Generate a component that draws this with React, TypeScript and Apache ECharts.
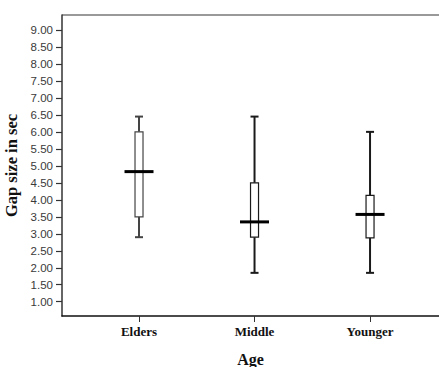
import React, { useEffect, useRef } from "react";
import * as echarts from "echarts";

const categories = ["Elders", "Middle", "Younger"];
const whiskerLow = [2.9, 1.85, 1.85];
const boxLow = [3.5, 2.9, 2.88];
const medians = [4.83, 3.35, 3.57];
const boxHigh = [6.0, 4.5, 4.13];
const whiskerHigh = [6.45, 6.45, 6.0];
const yTicks = [1, 1.5, 2, 2.5, 3, 3.5, 4, 4.5, 5, 5.5, 6, 6.5, 7, 7.5, 8, 8.5, 9];

export default function App() {
  const ref = useRef<HTMLDivElement>(null);
  useEffect(() => {
    if (!ref.current) return;
    const chart = echarts.init(ref.current, null, { renderer: "svg" });
    const data = categories.map((_, i) => [
      i + 1,
      whiskerLow[i],
      boxLow[i],
      medians[i],
      boxHigh[i],
      whiskerHigh[i],
    ]);
    chart.setOption({
      animation: false,
      backgroundColor: "#ffffff",
      grid: { left: 62, right: 0, top: 15, bottom: 51, containLabel: false, outerBoundsMode: "none" },
      xAxis: {
        type: "value",
        min: 0.3333,
        max: 3.597,
        splitLine: { show: false },
        axisLine: { show: true, lineStyle: { color: "#111", width: 1.5 } },
        axisTick: { show: true, length: 6, customValues: [1, 2, 3], lineStyle: { color: "#333", width: 1 } },
        axisLabel: {
          customValues: [1, 2, 3],
          formatter: (v: number) => categories[Math.round(v) - 1] ?? "",
          margin: 9,
          fontFamily: "Liberation Serif",
          fontWeight: "bold",
          fontSize: 13,
          color: "#111",
        },
        name: "Age",
        nameLocation: "middle",
        nameGap: 35,
        nameTextStyle: { fontFamily: "Liberation Serif", fontWeight: "bold", fontSize: 16, color: "#111" },
      },
      yAxis: {
        type: "value",
        min: 0.58,
        max: 9.44,
        splitLine: { show: false },
        axisLine: { show: true, lineStyle: { color: "#333", width: 1.5 } },
        axisTick: { show: true, length: 6, customValues: yTicks, lineStyle: { color: "#333", width: 1.2 } },
        axisLabel: {
          customValues: yTicks,
          formatter: (v: number) => v.toFixed(2),
          margin: 9,
          fontFamily: "Liberation Sans",
          fontSize: 11.5,
          color: "#3a3a3a",
        },
        name: "Gap size in sec",
        nameLocation: "middle",
        nameRotate: 90,
        nameGap: 35,
        nameTextStyle: { fontFamily: "Liberation Serif", fontWeight: "bold", fontSize: 16.5, color: "#111" },
      },
      graphic: [
        {
          type: "line",
          shape: { x1: 62, y1: 15, x2: 439, y2: 15 },
          style: { stroke: "#777", lineWidth: 1.5 },
        },
      ],
      series: [
        {
          type: "custom",
          data,
          renderItem: (params: any, api: any) => {
            const x = api.value(0);
            const pWL = api.coord([x, api.value(1)]);
            const pBL = api.coord([x, api.value(2)]);
            const pMed = api.coord([x, api.value(3)]);
            const pBH = api.coord([x, api.value(4)]);
            const pWH = api.coord([x, api.value(5)]);
            const cx = pMed[0];
            const boxW = 8;
            const capW = 8;
            const medW = 29;
            const stroke = params.dataIndex === 0 ? "#444" : "#1a1a1a";
            return {
              type: "group",
              children: [
                { type: "line", shape: { x1: cx, y1: pWH[1], x2: cx, y2: pBH[1] }, style: { stroke, lineWidth: 2 } },
                { type: "line", shape: { x1: cx, y1: pBL[1], x2: cx, y2: pWL[1] }, style: { stroke, lineWidth: 2 } },
                { type: "line", shape: { x1: cx - capW / 2, y1: pWH[1], x2: cx + capW / 2, y2: pWH[1] }, style: { stroke, lineWidth: 2 } },
                { type: "line", shape: { x1: cx - capW / 2, y1: pWL[1], x2: cx + capW / 2, y2: pWL[1] }, style: { stroke, lineWidth: 2 } },
                {
                  type: "rect",
                  shape: { x: cx - boxW / 2, y: pBH[1], width: boxW, height: pBL[1] - pBH[1] },
                  style: { fill: "#ffffff", stroke, lineWidth: 1.2 },
                },
                { type: "line", shape: { x1: cx - medW / 2, y1: pMed[1], x2: cx + medW / 2, y2: pMed[1] }, style: { stroke: "#000", lineWidth: 3 } },
              ],
            };
          },
        },
      ],
    });
    return () => chart.dispose();
  }, []);
  return <div ref={ref} style={{ position: "fixed", left: 0, top: 0, width: 439, height: 367 }} />;
}
